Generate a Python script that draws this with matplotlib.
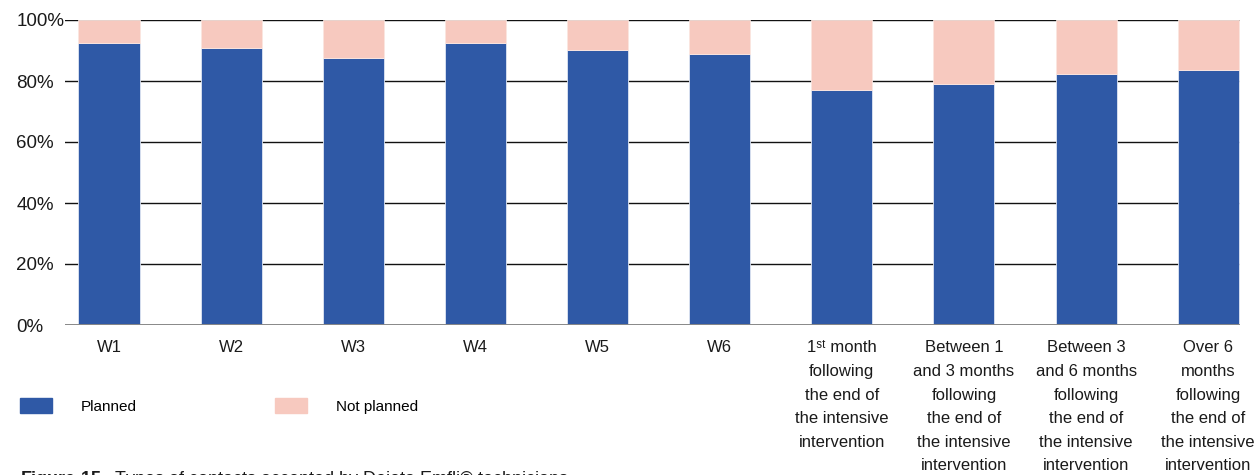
import matplotlib
matplotlib.use("Agg")
import matplotlib.pyplot as plt
import matplotlib.patches as mpatches
import matplotlib.ticker as ticker
import numpy as np

plt.rcParams["font.family"] = ["Liberation Sans", "DejaVu Sans"]
plt.rcParams["mathtext.fontset"] = "custom"
plt.rcParams["mathtext.rm"] = "Liberation Sans"
plt.rcParams["mathtext.bf"] = "Liberation Sans:bold"

# ── Data ──────────────────────────────────────────────────────────────────────
categories = [
    "W1", "W2", "W3", "W4", "W5", "W6",
    "1\u02e2\u1d57 month\nfollowing\nthe end of\nthe intensive\nintervention",
    "Between 1\nand 3 months\nfollowing\nthe end of\nthe intensive\nintervention",
    "Between 3\nand 6 months\nfollowing\nthe end of\nthe intensive\nintervention",
    "Over 6\nmonths\nfollowing\nthe end of\nthe intensive\nintervention",
]
planned = [92.4, 90.7, 87.5, 92.5, 90.1, 88.9, 76.9, 79.1, 82.3, 83.6]
not_planned = [100 - p for p in planned]

series_labels = ["Planned", "Not planned"]
y_ticks = [0, 20, 40, 60, 80, 100]

BLUE = "#2f59a6"
PINK = "#f7c9bf"

# ── Figure ────────────────────────────────────────────────────────────────────
W, H = 1258, 475
fig = plt.figure(figsize=(W / 100, H / 100), dpi=100, facecolor="white")
ax = fig.add_axes([65 / W, 1 - 325 / H, 1175 / W, 305 / H])

x = np.arange(len(categories))
bar_w = 0.5

ax.bar(x, planned, width=bar_w, color=BLUE, edgecolor="#dfe6f3",
       linewidth=0.6, zorder=3, label=series_labels[0])
ax.bar(x, not_planned, bottom=planned, width=bar_w, color=PINK,
       edgecolor="#fbe6e0", linewidth=0.6, zorder=3, label=series_labels[1])

ax.set_xlim(-0.36, len(categories) - 1 + 0.26)
ax.set_ylim(0, 100)

# horizontal rules
for t in y_ticks[1:]:
    ax.axhline(t, color="#111111", linewidth=1.0, zorder=2)
ax.axhline(0, color="#888888", linewidth=1.4, zorder=4)

for s in ax.spines.values():
    s.set_visible(False)

ax.set_yticks(y_ticks)
ax.yaxis.set_major_formatter(ticker.FuncFormatter(lambda v, _: f"{v:.0f}%"))
ax.tick_params(axis="y", length=0, pad=35, labelsize=13.5, colors="#1a1a1a")
for lbl in ax.get_yticklabels():
    lbl.set_horizontalalignment("left")

ax.set_xticks(x)
ax.set_xticklabels(categories, fontsize=12, linespacing=1.72, color="#1a1a1a")
ax.tick_params(axis="x", length=0, pad=11)

# ── Legend ────────────────────────────────────────────────────────────────────
handles = [mpatches.Patch(color=BLUE), mpatches.Patch(color=PINK)]
fig.legend(handles, series_labels, loc="center left",
           bbox_to_anchor=(20 / W, 1 - 406 / H), ncol=2, frameon=False,
           fontsize=11, handlelength=2.1, handleheight=1.05,
           handletextpad=1.85, columnspacing=9.1, borderpad=0,
           borderaxespad=0)

# caption, running off the bottom edge
fig.text(20 / W, 1 - 469 / H,
         "$\\mathbf{Figure\\ 15.}$ Types of contacts accepted by Dejeta Emfli® technicians",
         ha="left", va="top", fontsize=13, color="#1a1a1a")

fig.savefig("out.png", dpi=100, facecolor="white")
